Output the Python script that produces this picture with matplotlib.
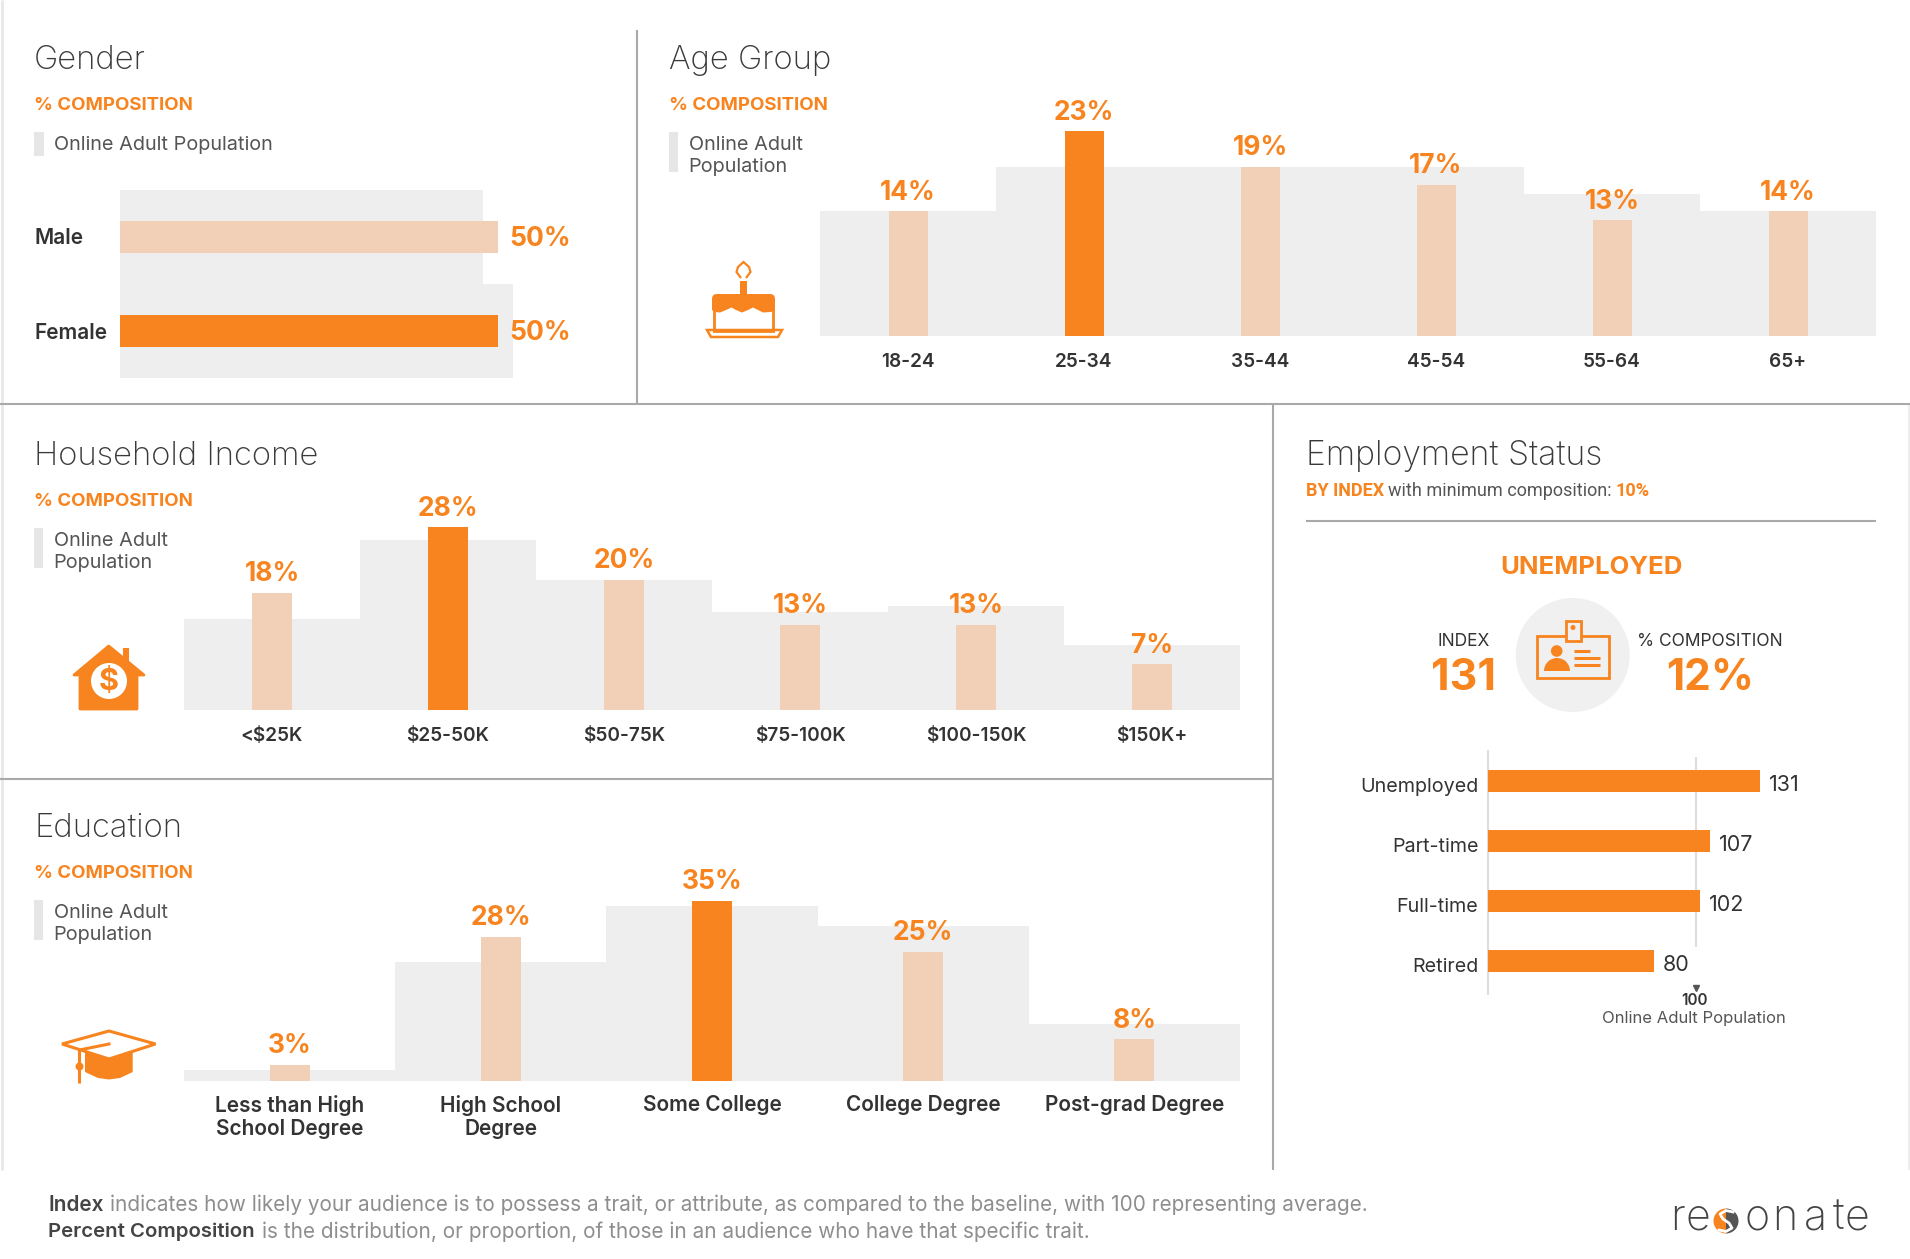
"""Audience profile infographic: gender, age, income, education, employment."""

import matplotlib

matplotlib.use("Agg")
import matplotlib.pyplot as plt
from matplotlib.patches import Circle, FancyBboxPatch, Polygon, Rectangle, Wedge
from matplotlib.transforms import ScaledTranslation

W, H = 1910, 1259
ORANGE = "#F7841E"
PEACH = "#F2D0B7"
BAND = "#EEEEEE"
DARK = "#333333"
MID = "#555555"
RULE = "#A9A9A9"
FONT = "Inter"

gender_labels = ["Male", "Female"]
gender_values = [50, 50]
gender_baseline = [48, 52]

age_labels = ["18-24", "25-34", "35-44", "45-54", "55-64", "65+"]
age_values = [14, 23, 19, 17, 13, 14]
age_baseline = [14, 19, 19, 19, 16, 14]

income_labels = ["<$25K", "$25-50K", "$50-75K", "$75-100K", "$100-150K", "$150K+"]
income_values = [18, 28, 20, 13, 13, 7]
income_baseline = [14, 26, 20, 15, 16, 10]

edu_labels = ["Less than High\nSchool Degree", "High School\nDegree", "Some College",
              "College Degree", "Post-grad Degree"]
edu_values = [3, 28, 35, 25, 8]
edu_baseline = [2, 23, 34, 30, 11]

emp_labels = ["Unemployed", "Part-time", "Full-time", "Retired"]
emp_values = [131, 107, 102, 80]

plt.rcParams["font.family"] = [FONT, "DejaVu Sans"]
fig = plt.figure(figsize=(W / 100, H / 100), dpi=100, facecolor="white")


def px_axes(left, top, right, bottom, z=2):
    ax = fig.add_axes([left / W, 1 - bottom / H, (right - left) / W, (bottom - top) / H], zorder=z)
    ax.patch.set_alpha(0)
    for spine in ax.spines.values():
        spine.set_visible(False)
    return ax


# pixel overlay for rules, headings and icons
page = px_axes(0, 0, W, H, z=1)
page.set_xlim(0, W)
page.set_ylim(H, 0)
page.axis("off")


def rule(x0, y0, x1, y1, color=RULE, lw=1.5):
    page.plot([x0, x1], [y0, y1], color=color, lw=lw, solid_capstyle="butt")


def label(x, y, text, size, color=DARK, weight="normal", ha="left", family=None):
    return page.text(x, y, text, fontsize=size, color=color, fontweight=weight, ha=ha, va="center",
                     family=family or [FONT, "DejaVu Sans"])


def panel_head(x, y, title, legend_lines):
    label(x, y + 3, title, 23.6, color="#3a3a3a", weight="light")
    label(x, y + 48.5, "% COMPOSITION", 13.4, color=ORANGE, weight="bold")
    top = y + 74
    if len(legend_lines) == 1:
        page.add_patch(Rectangle((x, top + 1), 10, 24, color="#E6E6E6", lw=0))
        label(x + 19.5, top + 14, legend_lines[0], 14.3, color=MID)
    else:
        page.add_patch(Rectangle((x, top + 1), 9, 40, color="#E6E6E6", lw=0))
        label(x + 19.5, top + 14, legend_lines[0], 14.3, color=MID)
        label(x + 19.5, top + 36, legend_lines[1], 14.3, color=MID)


def column_panel(left, right, base_y, px_per_pct, labels, values, baseline, highlight, bar_px, tick_size=13.7, pad=12):
    top = base_y - px_per_pct * 40
    ax = px_axes(left, top, right, base_y)
    n = len(labels)
    xs = list(range(n))
    ax.bar(xs, baseline, width=1.0, color=BAND, lw=0, zorder=1)
    band_px = (right - left) / n
    colors = [ORANGE if v == highlight else PEACH for v in values]
    ax.bar(xs, values, width=bar_px / band_px, color=colors, lw=0, zorder=2)
    ax.set_xlim(-0.5, n - 0.5)
    ax.set_ylim(0, 40)
    ax.set_yticks([])
    ax.set_xticks(xs)
    ax.set_xticklabels(labels, fontsize=tick_size, color=DARK, fontweight="semibold", linespacing=1.2)
    ax.tick_params(axis="x", length=0, pad=pad)
    for x, v in zip(xs, values):
        ax.annotate(f"{v}%", (x, v), xytext=(0, 13.5), textcoords="offset points", ha="center", va="center",
                    fontsize=19, fontweight="bold", color=ORANGE, annotation_clip=False)
    return ax


# frame rules
rule(1.5, 0, 1.5, 1170, color="#E8E8E8", lw=2)
rule(1908.5, 404, 1908.5, 1170, color="#EDEDED", lw=1.5)
rule(637, 30, 637, 404)
rule(0, 404, W, 404)
rule(1273, 404, 1273, 1170)
rule(0, 779, 1273, 779)
rule(1306, 521, 1876, 521)

# gender
panel_head(34, 57, "Gender", ["Online Adult Population"])
ax = px_axes(120, 190, 640, 378)
ys = list(range(len(gender_labels)))
ax.barh(ys, gender_baseline, height=1.0, color=BAND, lw=0, zorder=1)
ax.barh(ys, gender_values, height=0.33, color=[PEACH, ORANGE], lw=0, zorder=2)
ax.set_xlim(0, 520 / 7.56)
ax.set_ylim(1.5, -0.5)
ax.set_xticks([])
ax.set_yticks([])
for y, v, name in zip(ys, gender_values, gender_labels):
    ax.annotate(f"{v}%", (v, y), xytext=(8, -1.5), textcoords="offset points", ha="left", va="center",
                fontsize=19, fontweight="bold", color=ORANGE)
    label(34, 238 + 95 * y, name, 15, weight="semibold")

# age group
panel_head(669, 57, "Age Group", ["Online Adult", "Population"])
column_panel(820, 1876, 336, 8.9, age_labels, age_values, age_baseline, 23, 39)

# household income
panel_head(34, 453, "Household Income", ["Online Adult", "Population"])
column_panel(184, 1240, 710, 6.52, income_labels, income_values, income_baseline, 28, 40)

# education
panel_head(34, 825, "Education", ["Online Adult", "Population"])
column_panel(184, 1240, 1080.5, 5.14, edu_labels, edu_values, edu_baseline, 35, 40, tick_size=15, pad=10.5)

# employment header
label(1306, 456, "Employment Status", 24.3, color="#3a3a3a", weight="light")
label(1306, 491, "BY INDEX", 13, color=ORANGE, weight="bold", family="Roboto")
label(1388, 491, "with minimum composition:", 13, color=MID, family="Roboto")
label(1615, 491, "10%", 13, color=ORANGE, weight="bold", family="Roboto")
label(1591, 567, "UNEMPLOYED", 18.5, color=ORANGE, weight="bold", ha="center")
label(1464, 641, "INDEX", 12.5, ha="center")
label(1463, 678, "131", 31, color=ORANGE, weight="bold", ha="center")
label(1710, 641, "% COMPOSITION", 12.5, ha="center")
label(1710, 678, "12%", 30.5, color=ORANGE, weight="bold", ha="center")

# employment index bars
ax = px_axes(1488, 751, 1903, 991.5)
ys = list(range(len(emp_labels)))
ax.axvline(0, color="#DDDDDD", lw=1.5, zorder=1, ymin=-0.01, ymax=1.0, clip_on=False)
ax.plot([100, 100], [-0.38, 2.74], color="#E0DCD8", lw=1.5, zorder=1)
ax.barh(ys, emp_values, height=22 / 60.2, color=ORANGE, lw=0, zorder=2)
ax.set_xlim(0, 415 / 2.076)
ax.set_ylim(3.5, -0.5)
ax.set_xticks([])
ax.set_yticks(ys)
ax.set_yticklabels(emp_labels, fontsize=14.2, color=DARK)
ax.tick_params(axis="y", length=0, pad=7)
# tick labels sit a little under the bar centre in the original
nudge = ScaledTranslation(0, -2.5 / 72, fig.dpi_scale_trans)
for tick_text in ax.get_yticklabels():
    tick_text.set_transform(tick_text.get_transform() + nudge)
for y, v in zip(ys, emp_values):
    ax.annotate(f"{v}", (v, y), xytext=(6.5, -2.5), textcoords="offset points", ha="left", va="center",
                fontsize=15.5, color=DARK)
ax.plot([100], [3.44], marker="v", ms=5, color="#555555", clip_on=False, zorder=3)
label(1694, 1000, "100", 11, weight="semibold", ha="center")
label(1694, 1019, "Online Adult Population", 12, color=MID, ha="center")

# cake icon
page.add_patch(Rectangle((714, 300), 59, 31, fill=False, ec=ORANGE, lw=2))
page.add_patch(FancyBboxPatch((712, 294), 63, 12, boxstyle="round,pad=0,rounding_size=5", fc=ORANGE, lw=0))
page.add_patch(Polygon([(712, 302), (775, 302), (775, 310), (771, 312), (763, 312.5), (758, 310), (753, 307.5), (748, 310),
                        (742, 312.5), (736, 310), (731.5, 307.5), (726, 310), (720, 312.5), (715, 312), (712, 310)],
                       fc=ORANGE, lw=0))
page.add_patch(Rectangle((740, 281), 7, 14, fc=ORANGE, lw=0))
page.add_patch(Polygon([(741, 278), (736.5, 272), (738, 267), (743.5, 262), (749, 267), (750.5, 272), (746, 278)],
                       closed=False, fill=False, ec=ORANGE, lw=1.6))
page.add_patch(Polygon([(707, 330), (782, 330), (778, 337), (711, 337)], fill=False, ec=ORANGE, lw=1.8))

# house icon
page.add_patch(Rectangle((123, 648), 5.5, 24, fc=ORANGE, lw=0))
page.add_patch(Polygon([(74, 675), (108.7, 646), (144, 675), (137, 675), (137, 709), (80, 709), (80, 675)],
                       fc=ORANGE, ec=ORANGE, lw=2, joinstyle="round"))
page.add_patch(Circle((109, 681), 18, fc="white", lw=0))
label(109, 681.5, "$", 22, color=ORANGE, weight="bold", ha="center")

# mortarboard icon
page.add_patch(Polygon([(85, 1052), (109, 1060), (132.7, 1052), (132.7, 1072), (120, 1078), (109, 1079.5), (98, 1078), (85, 1072)],
                       fc=ORANGE, lw=0))
page.add_patch(Polygon([(62, 1044), (109, 1031), (155.5, 1044), (109, 1059)], fill=False, ec=ORANGE, lw=2.2))
page.plot([79.5, 79.5, 109], [1082, 1050, 1044], color=ORANGE, lw=2.2)
page.add_patch(Circle((79.5, 1066.5), 4, fc=ORANGE, lw=0))

# id badge icon
page.add_patch(Circle((1572.7, 655), 57, fc="#F0F0F0", lw=0))
page.add_patch(Rectangle((1537, 636), 72, 42, fill=False, ec=ORANGE, lw=2))
page.add_patch(Rectangle((1566, 620.5), 14.5, 20.5, fc="#F0F0F0", ec=ORANGE, lw=2))
page.add_patch(Circle((1573, 627.5), 2.5, fc=ORANGE, lw=0))
page.add_patch(Circle((1556.7, 651), 5.8, fc=ORANGE, lw=0))
page.add_patch(Wedge((1557, 671), 13, 180, 360, fc=ORANGE, lw=0))
for x_end, y_line in zip([1590, 1600, 1600], [651, 658, 665]):
    rule(1574, y_line, x_end, y_line, color=ORANGE, lw=2.2)

# footer
foot_size = 14.95
label(48, 1205, "Index", foot_size, color="#444444", weight="semibold")
label(110, 1205, "indicates how likely your audience is to possess a trait, or attribute, as compared to the "
      "baseline, with 100 representing average.", foot_size, color="#8e8e8e")
label(48, 1232, "Percent Composition", 14.7, color="#444444", weight="semibold")
label(262, 1232, "is the distribution, or proportion, of those in an audience who have that specific trait.",
      foot_size, color="#8e8e8e")

# logo
logo_letters = ["r", "e", "o", "n", "a", "t", "e"]
logo_x = [1677, 1698, 1757, 1785, 1815, 1838, 1857]
for letter, x in zip(logo_letters, logo_x):
    label(x, 1218, letter, 31, color="#444444", weight="light", ha="center")
page.add_patch(Wedge((1726, 1221), 12.5, 90, 270, fc=ORANGE, lw=0))
page.add_patch(Wedge((1726, 1221), 12.5, 270, 90, fc="#555555", lw=0))
page.plot([1733, 1726, 1720, 1723, 1729, 1732, 1726, 1719], [1212, 1210.5, 1214, 1219, 1223, 1228, 1231.5, 1230],
          color="white", lw=2)

fig.savefig("out.png", dpi=100, facecolor="white")
